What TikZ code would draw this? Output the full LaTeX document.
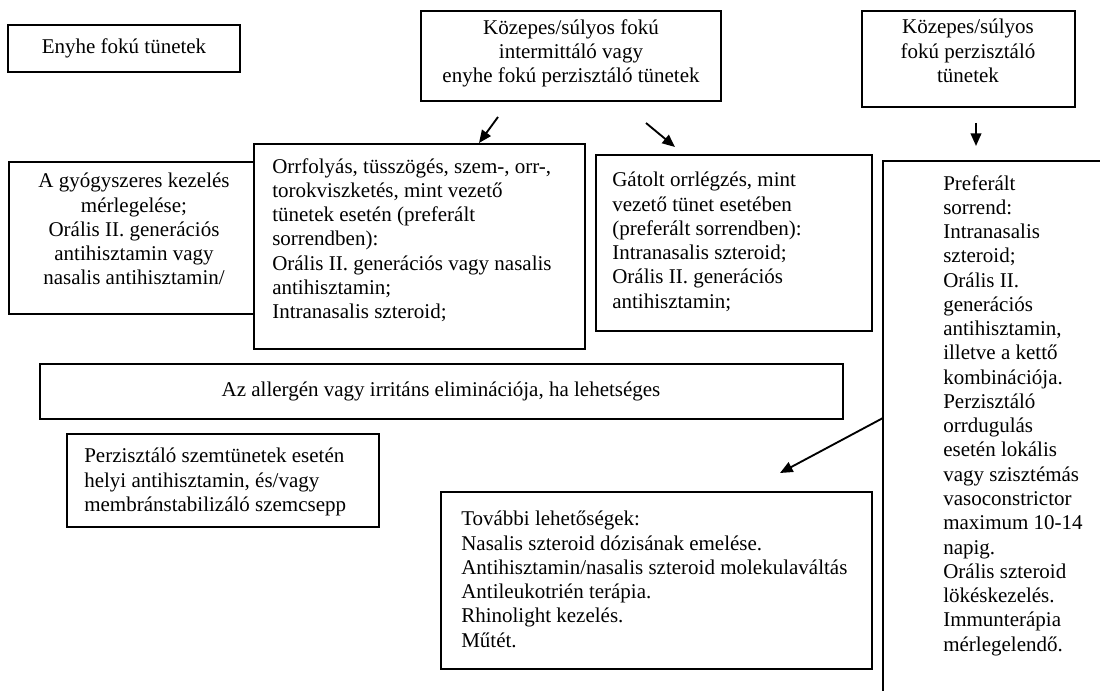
\documentclass[tikz,border=0pt]{standalone}
\usepackage{fontspec}
\setmainfont{Liberation Serif}
\usetikzlibrary{arrows.meta,fit}
\tikzset{
  box/.style={draw, line width=1.5pt, inner sep=0pt},
  txt/.style={inner sep=0pt, font=\fontsize{15.75pt}{18.2pt}\selectfont},
  arr/.style={-{Triangle[length=9.5pt,width=8pt]}, line width=1.4pt},
}
\begin{document}
\begin{tikzpicture}[x=0.75pt,y=0.75pt,yscale=-1,xscale=1]
              \useasboundingbox (0,0) rectangle (1100,691);
              \node[box, fit={(8,25) (240,72)}] (enyhe) {};
              \node[txt, anchor=base] (enyhe-t) at (124,54) {Enyhe fokú tünetek};
              \node[box, fit={(421,11) (721,101)}] (kozep) {};
              \node[txt, anchor=north, align=center] (kozep-t) at (571,19) {Közepes/súlyos fokú\\intermittáló vagy\\enyhe fokú perzisztáló tünetek};
              \node[box, fit={(862,11) (1075,107)}] (perz) {};
              \node[txt, anchor=north, align=center] (perz-t) at (968,19) {Közepes/súlyos\\fokú perzisztáló\\tünetek};
              \node[box, fit={(9,162) (254,314)}] (gyogy) {};
              \node[txt, anchor=north, align=center] (gyogy-t) at (134,173) {A gyógyszeres kezelés\\mérlegelése;\\Orális II. generációs\\antihisztamin vagy\\nasalis antihisztamin/};
              \node[box, fit={(254,144) (585,349)}] (orrfoly) {};
              \node[txt, anchor=north west, align=left] (orrfoly-t) at (272,158) {Orrfolyás, tüsszögés, szem-, orr-,\\torokviszketés, mint vezető\\tünetek esetén (preferált\\sorrendben):\\Orális II. generációs vagy nasalis\\antihisztamin;\\Intranasalis szteroid;};
              \node[box, fit={(596,155) (872,331)}] (gatolt) {};
              \node[txt, anchor=north west, align=left] (gatolt-t) at (612,172) {Gátolt orrlégzés, mint\\vezető tünet esetében\\(preferált sorrendben):\\Intranasalis szteroid;\\Orális II. generációs\\antihisztamin;};
              \node[box, fit={(883,161) (1110,700)}] (prefer) {};
              \node[txt, anchor=north west, align=left] (prefer-t) at (943,175) {Preferált\\sorrend:\\Intranasalis\\szteroid;\\Orális II.\\generációs\\antihisztamin,\\illetve a kettő\\kombinációja.\\Perzisztáló\\orrdugulás\\esetén lokális\\vagy szisztémás\\vasoconstrictor\\maximum 10-14\\napig.\\Orális szteroid\\lökéskezelés.\\Immunterápia\\mérlegelendő.};
              \node[box, fit={(40,364) (843,419)}] (elim) {};
              \node[txt, anchor=base] (elim-t) at (441,397) {Az allergén vagy irritáns eliminációja, ha lehetséges};
              \node[box, fit={(67,434) (379,527)}] (szem) {};
              \node[txt, anchor=north west, align=left] (szem-t) at (84,448) {Perzisztáló szemtünetek esetén\\helyi antihisztamin, és/vagy\\membránstabilizáló szemcsepp};
              \node[box, fit={(441,492) (872,669)}] (tovabb) {};
              \node[txt, anchor=north west, align=left] (tovabb-t) at (461,511) {További lehetőségek:\\Nasalis szteroid dózisának emelése.\\Antihisztamin/nasalis szteroid molekulaváltás\\Antileukotrién terápia.\\Rhinolight kezelés.\\Műtét.};
              \coordinate (a1) at (498,117); \coordinate (b1) at (479,143);
              \coordinate (a2) at (646,123); \coordinate (b2) at (675,147);
              \coordinate (a3) at (976,123); \coordinate (b3) at (976,146);
              \coordinate (a4) at (883,418); \coordinate (b4) at (780,473);
              \draw[arr] (a1) -- (b1);
              \draw[arr] (a2) -- (b2);
              \draw[arr] (a3) -- (b3);
              \draw[arr] (a4) -- (b4);
\end{tikzpicture}
\end{document}
